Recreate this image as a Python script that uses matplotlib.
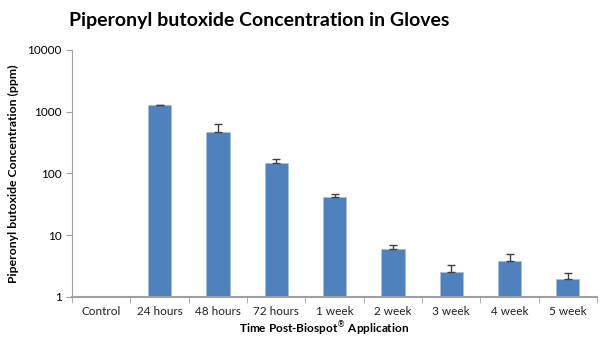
import numpy as np
import matplotlib
matplotlib.use("Agg")
import matplotlib.pyplot as plt

categories = ["Control", "24 hours", "48 hours", "72 hours", "1 week",
              "2 week", "3 week", "4 week", "5 week"]
conc = [np.nan, 1280, 462, 147, 40.8, 5.87, 2.54, 3.83, 1.96]
err_up = [0, 20, 175, 25, 6, 0.95, 0.7, 1.1, 0.46]

plt.rcParams['font.family'] = ['Lato', 'DejaVu Sans']

fig = plt.figure(figsize=(6, 3.46), dpi=100)
ax = fig.add_axes([0.12, 0.1425, 0.875, 0.713])

x = np.arange(len(categories))
err = np.array([np.zeros(len(err_up)), err_up])
ax.bar(x, conc, width=0.4, color="#4F81BD", edgecolor="#A7C0DE", linewidth=0.6,
       yerr=err, error_kw=dict(ecolor="#404040", capsize=3, elinewidth=1, capthick=1),
       zorder=2)

ax.set_yscale("log")
ax.set_ylim(1, 10000)
ax.set_xlim(-0.5, len(categories) - 0.5)
ax.set_yticks([1, 10, 100, 1000, 10000])
ax.set_yticklabels(["1", "10", "100", "1000", "10000"])
ax.minorticks_off()
ax.set_xticks(x)
ax.set_xticklabels(categories)
ax.set_xticks(np.arange(len(categories) + 1) - 0.5, minor=True)
ax.tick_params(axis="x", which="major", length=0, labelsize=8.5, pad=7, colors="#222222")
ax.tick_params(axis="x", which="minor", length=4, color="#A0A0A0")
ax.tick_params(axis="y", length=4, color="#A0A0A0", labelsize=8.5)

for s in ["top", "right"]:
    ax.spines[s].set_visible(False)
ax.spines["left"].set_color("#A0A0A0")
ax.spines["bottom"].set_color("#A0A0A0")
ax.spines["bottom"].set_linewidth(1.5)

ax.set_xlabel("Time Post-Biospot$^{\u00ae}$ Application", fontsize=8.5, fontweight="bold")
ax.xaxis.set_label_coords(0.48, -0.095)
ax.set_ylabel("Piperonyl butoxide Concentration (ppm)", fontsize=8.8, fontweight="bold", labelpad=6)

fig.text(0.432, 0.94, "Piperonyl butoxide Concentration in Gloves", ha="center", va="center",
         fontsize=14, fontweight="bold")

fig.savefig("out.png", dpi=100)
